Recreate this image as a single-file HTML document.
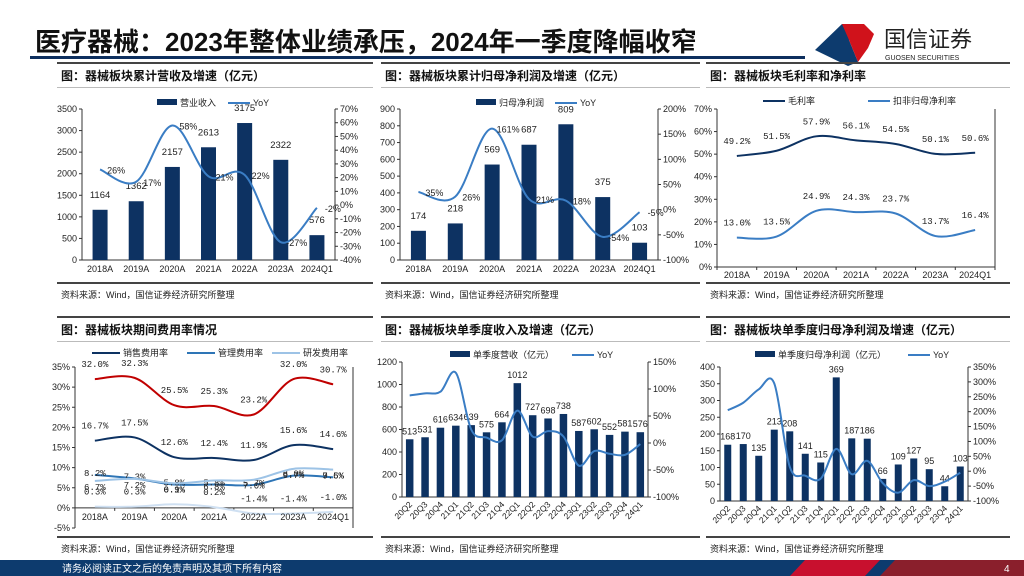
<!DOCTYPE html>
<html><head><meta charset="utf-8">
<style>
html,body{margin:0;padding:0;background:#fff;}
svg{display:block;font-family:"Liberation Sans","Noto Sans CJK SC",sans-serif;}
</style></head>
<body>
<svg id="s" width="1024" height="576" viewBox="0 0 1024 576">
  <text x="35" y="51" font-size="26" font-weight="bold" fill="#111" font-family="Liberation Sans,Noto Sans CJK SC,sans-serif">医疗器械：2023年整体业绩承压，2024年一季度降幅收窄</text>
  <rect x="30" y="56" width="775" height="3" fill="#0d2f5e"/>
  <g>
    <path d="M815 50 L842 24 L856 27 L849 40 L858 62 L848 66 Z" fill="#0d3b6e"/>
    <path d="M842 24 L864 24 L874 34 L868 48 L858 62 L849 40 Z" fill="#d0121b"/>
    <text x="884" y="47" font-size="22" fill="#222">国信证券</text>
    <text x="885" y="60" font-size="7" fill="#222">GUOSEN SECURITIES</text>
  </g>
  <rect x="0" y="560" width="1024" height="16" fill="#0d3b6e"/>
  <path d="M790 576 L805 560 L880 560 L865 576 Z" fill="#c8102e"/>
  <path d="M880 576 L895 560 L1024 560 L1024 576 Z" fill="#8a1f2c"/>
  <text x="62" y="572" font-size="10" fill="#fff">请务必阅读正文之后的免责声明及其项下所有内容</text>
  <text x="1004" y="572" font-size="10" fill="#fff">4</text>
</svg>
<script>
const yearCats=['2018A','2019A','2020A','2021A','2022A','2023A','2024Q1'];
const revVals=[1164,1362,2157,2613,3175,2322,576];
const revYoy=[26,17,58,21,22,-27,-2];
const revYoyLbl=['26%','17%','58%','21%','22%','-27%','-2%'];
const npVals=[174,218,569,687,809,375,103];
const npYoy=[35,26,161,21,18,-54,-5];
const npYoyLbl=['35%','26%','161%','21%','18%','-54%','-5%'];
const grossM=[49.2,51.5,57.9,56.1,54.5,50.1,50.6];
const netM=[13.0,13.5,24.9,24.3,23.7,13.7,16.4];
const redRate=[32.0,32.3,25.5,25.3,23.2,32.0,30.7];
const salesRate=[16.7,17.5,12.6,12.4,11.9,15.6,14.6];
const mgmtRate=[8.2,7.3,5.8,5.8,5.7,8.0,7.6];
const rdRate=[6.7,7.2,6.1,6.8,7.0,9.7,9.5];
const finRate=[0.3,0.3,0.9,0.2,-1.4,-1.4,-1.0];
const qCats=['20Q2','20Q3','20Q4','21Q1','21Q2','21Q3','21Q4','22Q1','22Q2','22Q3','22Q4','23Q1','23Q2','23Q3','23Q4','24Q1'];
const qRev=[513,531,616,634,639,575,664,1012,727,698,738,587,602,552,581,576];
const qRevYoy=[88,92,95,130,25,10,5,60,12,22,12,-42,-15,-20,-22,-2];
const qNp=[168,170,135,213,208,141,115,369,187,186,66,109,127,95,44,103];
const qNpYoy=[205,230,275,295,15,-15,-25,75,-10,35,-40,-72,-30,-50,-35,-5];

const NS='http://www.w3.org/2000/svg';
const S=document.getElementById('s');
function mk(tag,at,parent,txt){const e=document.createElementNS(NS,tag);for(const k in at)e.setAttribute(k,at[k]);if(txt!==undefined)e.textContent=txt;(parent||S).appendChild(e);return e;}
function smooth(pts){let d='M'+pts[0][0]+' '+pts[0][1];for(let i=0;i<pts.length-1;i++){const p0=pts[i-1]||pts[i],p1=pts[i],p2=pts[i+1],p3=pts[i+2]||p2;const c1x=p1[0]+(p2[0]-p0[0])/6,c1y=p1[1]+(p2[1]-p0[1])/6,c2x=p2[0]-(p3[0]-p1[0])/6,c2y=p2[1]-(p3[1]-p1[1])/6;d+=` C${c1x} ${c1y} ${c2x} ${c2y} ${p2[0]} ${p2[1]}`;}return d;}

function panel(x1,x2,yTop,yBot,title,id){
  let g=mk('g',{});
  
  
  mk('rect',{x:x1,y:yTop,width:x2-x1,height:2,fill:'#444'},g);
  let t=mk('text',{x:x1+4,y:yTop+18,'font-size':12,'font-weight':'bold',fill:'#111'},g,title);
  
  
  mk('rect',{x:x1,y:yTop+25,width:x2-x1,height:1,fill:'#bbb'},g);
  mk('rect',{x:x1,y:yBot,width:x2-x1,height:2,fill:'#444'},g);
  let s=mk('text',{x:x1+4,y:yBot+16,'font-size':9,fill:'#222'},g,'资料来源：Wind，国信证券经济研究所整理');
  
  
}
panel(57,373,62,282,'图：器械板块累计营收及增速（亿元）','c1');
panel(381,700,62,282,'图：器械板块累计归母净利润及增速（亿元）','c2');
panel(706,1010,62,282,'图：器械板块毛利率和净利率','c3');
panel(57,373,316,536,'图：器械板块期间费用率情况','c4');
panel(381,700,316,536,'图：器械板块单季度收入及增速（亿元）','c5');
panel(706,1010,316,536,'图：器械板块单季度归母净利润及增速（亿元）','c6');

function axisL(g,x,y0,y1,min,max,step,fmt){
  mk('line',{x1:x,y1:y0,x2:x,y2:y1,stroke:'#333'},g);
  for(let v=min;v<=max+1e-9;v+=step){const y=y0+(v-min)/(max-min)*(y1-y0);
    mk('line',{x1:x-3,y1:y,x2:x,y2:y,stroke:'#333'},g);
    let t=mk('text',{x:x-5,y:y+3,'font-size':9,'text-anchor':'end',fill:'#222'},g,fmt(v));
    
    }
}
function axisR(g,x,y0,y1,min,max,step,fmt){
  mk('line',{x1:x,y1:y0,x2:x,y2:y1,stroke:'#333'},g);
  for(let v=min;v<=max+1e-9;v+=step){const y=y0+(v-min)/(max-min)*(y1-y0);
    mk('line',{x1:x,y1:y,x2:x+3,y2:y,stroke:'#333'},g);
    let t=mk('text',{x:x+5,y:y+3,'font-size':9,fill:'#222'},g,fmt(v));
    
    }
}
function legBar(g,x,y,label){let r=mk('rect',{x:x,y:y-4,width:20,height:6,fill:'#0d3262'},g);
  
  
  mk('text',{x:x+23,y:y+3,'font-size':9,fill:'#222'},g,label);}
function legLine(g,x,y,label,color,w){let l=mk('line',{x1:x,y1:y,x2:x+(w||22),y2:y,stroke:color,'stroke-width':2},g);
  
  
  mk('text',{x:x+(w||22)+3,y:y+3,'font-size':9,fill:'#222'},g,label);}

function barLine(o){
  const g=mk('g',{});
  
  
  const n=o.cats.length,cw=(o.xR-o.xL)/n;
  const yL=v=>o.yB+(v-o.lMin)/(o.lMax-o.lMin)*(o.yT-o.yB);
  const yR=v=>o.yB+(v-o.rMin)/(o.rMax-o.rMin)*(o.yT-o.yB);
  const cx=i=>o.xL+cw*(i+0.5);
  axisL(g,o.xL,o.yB,o.yT,o.lMin,o.lMax,o.lStep,v=>String(v));
  axisR(g,o.xR,o.yB,o.yT,o.rMin,o.rMax,o.rStep,v=>v+'%');
  mk('line',{x1:o.xL,y1:o.yB,x2:o.xR,y2:o.yB,stroke:'#333'},g);
  o.vals.forEach((v,i)=>{
    const b=mk('rect',{x:cx(i)-o.bw/2,y:yL(v),width:o.bw,height:o.yB-yL(v),fill:'#0d3262'},g);
    
    
    const t=mk('text',{x:cx(i),y:yL(v)-o.lblOff,'font-size':o.fs,'text-anchor':'middle',fill:'#222'},g,String(v));
    
    
  });
  const p=mk('path',{d:smooth(o.yoy.map((v,i)=>[cx(i),yR(v)])),fill:'none',stroke:'#3a7dc4','stroke-width':2},g);
  
  
  if(o.yoyLbl)o.yoy.forEach((v,i)=>{
    const t=mk('text',{x:cx(i)+16,y:yR(v)+4,'font-size':9,'text-anchor':'middle',fill:'#222'},g,o.yoyLbl[i]);
    
    
  });
  o.cats.forEach((c,i)=>{
    let t;
    if(o.rot){t=mk('text',{x:cx(i)+3,y:o.yB+8,'font-size':8.5,'text-anchor':'end',fill:'#222',transform:`rotate(-45 ${cx(i)+3} ${o.yB+8})`},g,c);}
    else t=mk('text',{x:cx(i),y:o.yB+12,'font-size':9,'text-anchor':'middle',fill:'#222'},g,c);
    
    
  });
  legBar(g,o.leg[0],o.legY,o.leg[1]);
  legLine(g,o.leg[2],o.legY,'YoY','#3a7dc4');
}
barLine({id:'c1',cats:yearCats,vals:revVals,yoy:revYoy,yoyLbl:revYoyLbl,xL:82,xR:335,yT:109,yB:260,lMin:0,lMax:3500,lStep:500,rMin:-40,rMax:70,rStep:10,bw:15,fs:9.5,lblOff:12,legY:103,leg:[157,'营业收入',228]});
barLine({id:'c2',cats:yearCats,vals:npVals,yoy:npYoy,yoyLbl:npYoyLbl,xL:400,xR:658,yT:109,yB:260,lMin:0,lMax:900,lStep:100,rMin:-100,rMax:200,rStep:50,bw:15,fs:9.5,lblOff:12,legY:103,leg:[476,'归母净利润',555]});
barLine({id:'c5',cats:qCats,vals:qRev,yoy:qRevYoy,xL:402,xR:648,yT:362,yB:497,lMin:0,lMax:1200,lStep:200,rMin:-100,rMax:150,rStep:50,bw:7.5,fs:9,lblOff:5,legY:355,leg:[450,'单季度营收（亿元）',572],rot:true});
barLine({id:'c6',cats:qCats,vals:qNp,yoy:qNpYoy,xL:720,xR:968,yT:367,yB:501,lMin:0,lMax:400,lStep:50,rMin:-100,rMax:350,rStep:50,bw:7,fs:9,lblOff:5,legY:355,leg:[755,'单季度归母净利润（亿元）',908],rot:true});

function lines(o){
  const g=mk('g',{});
  
  
  const n=o.cats.length,cw=(o.xR-o.xL)/n;
  const y=v=>o.yB+(v-o.min)/(o.max-o.min)*(o.yT-o.yB);
  const cx=i=>o.xL+cw*(i+0.5);
  axisL(g,o.xL,o.yB,o.yT,o.min,o.max,o.step,v=>v+'%');
  mk('line',{x1:o.xL,y1:y(0),x2:o.xR,y2:y(0),stroke:'#333'},g);
  mk('line',{x1:o.xR,y1:o.yT,x2:o.xR,y2:o.yB,stroke:'#333'},g);
  for(let i=0;i<=n;i++)mk('line',{x1:o.xL+cw*i,y1:y(0),x2:o.xL+cw*i,y2:y(0)+3,stroke:'#333'},g);
  o.series.forEach(s=>{
    const p=mk('path',{d:smooth(s.v.map((v,i)=>[cx(i),y(v)])),fill:'none',stroke:s.c,'stroke-width':2},g);
    
    
    s.v.forEach((v,i)=>{
      const t=mk('text',{x:cx(i),y:y(v)-(s.off||9),'font-size':9,'text-anchor':'middle',fill:'#222','font-family':'Liberation Mono,monospace'},g,v.toFixed(1)+'%');
      
      
    });
  });
  o.cats.forEach((c,i)=>{
    const t=mk('text',{x:cx(i),y:y(0)+o.xlOff,'font-size':9,'text-anchor':'middle',fill:'#222'},g,c);
    
    
  });
  o.leg.forEach(l=>legLine(g,l[0],o.legY,l[1],l[2],l[3]));
}
lines({id:'c3',cats:yearCats,xL:717,xR:995,yT:109,yB:267,min:0,max:70,step:10,xlOff:11,legY:101,
  series:[{name:'gross-margin',v:grossM,c:'#0d3262',off:12},{name:'net-margin',v:netM,c:'#3a7dc4',off:12}],
  leg:[[763,'毛利率','#0d3262'],[868,'扣非归母净利率','#3a7dc4']]});
lines({id:'c4',cats:yearCats,xL:75,xR:353,yT:367,yB:528,min:-5,max:35,step:5,xlOff:12,legY:353,
  series:[{name:'red-rate',v:redRate,c:'#c00000',off:12},{name:'sales-rate',v:salesRate,c:'#0d3262',off:12},
  {name:'mgmt-rate',v:mgmtRate,c:'#2e75b6',off:-1},{name:'rd-rate',v:rdRate,c:'#9dc3e6',off:-9},{name:'fin-rate',v:finRate,c:'#cfe0f2',off:12}],
  leg:[[92,'销售费用率','#0d3262',28],[187,'管理费用率','#2e75b6',28],[272,'研发费用率','#9dc3e6',28]]});
</script>
</body></html>
